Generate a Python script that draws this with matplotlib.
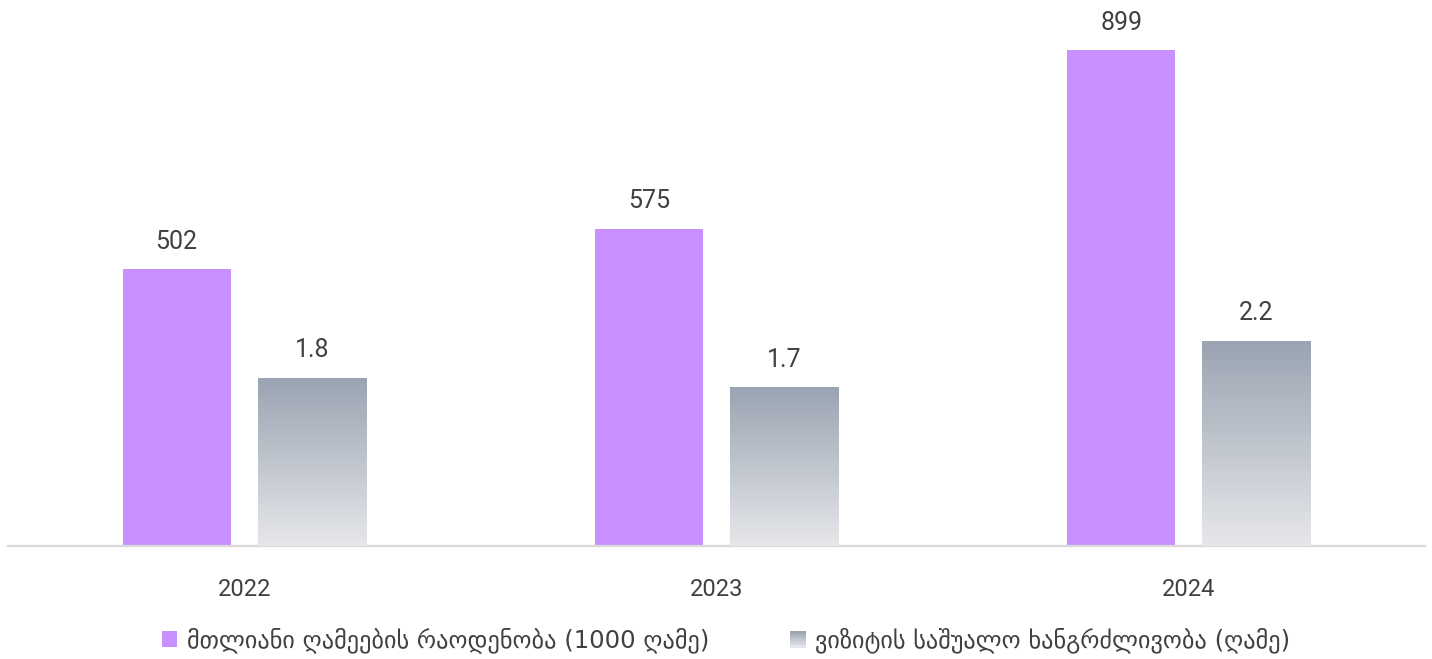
import numpy as np
import matplotlib
matplotlib.use("Agg")
from matplotlib import pyplot as plt
from matplotlib.colors import LinearSegmentedColormap
from matplotlib.patches import Patch, Rectangle
from matplotlib.legend_handler import HandlerBase

years = ["2022", "2023", "2024"]
nights = [502, 575, 899]          # 1000 nights
stay = [1.8, 1.7, 2.2]            # avg nights per visit
label_nights = "მთლიანი ღამეების რაოდენობა (1000 ღამე)"
label_stay = "ვიზიტის საშუალო ხანგრძლივობა (ღამე)"

purple = "#C990FF"
g_top = "#9AA4B2"
g_bot = "#E6E7EA"
txt = "#404040"
grad = LinearSegmentedColormap.from_list("g", [g_bot, g_top])

W, H = 1432, 659
fig = plt.figure(figsize=(W / 100, H / 100), dpi=100)
ax = fig.add_axes([8 / W, (H - 546) / H, 1417 / W, 540 / H])
ax2 = ax.twinx()

x = np.arange(len(years))
bw = 0.229
off = 0.143

ax.bar(x - off, nights, bw, color=purple, zorder=2)
for xi, v in zip(x, nights):
    ax.text(xi - off, v + 50, str(v), ha="center", va="center",
            fontsize=18, color=txt, family="Roboto")

# gradient bars on second axis
g = np.linspace(0, 1, 256).reshape(-1, 1)
for xi, v in zip(x, stay):
    ax2.imshow(g, extent=[xi + off - bw / 2, xi + off + bw / 2, 0, v],
               origin="lower", aspect="auto", cmap=grad, zorder=2)
    ax2.text(xi + off, v + 0.30, f"{v:.1f}", ha="center", va="center",
             fontsize=18, color=txt, family="Roboto")

ax.set_xlim(-0.5, 2.5)
ax2.set_xlim(-0.5, 2.5)
ax.set_ylim(0, 979)
ax2.set_ylim(0, 5.8)

for a in (ax, ax2):
    for s in ["top", "left", "right"]:
        a.spines[s].set_visible(False)
    a.set_yticks([])
ax2.spines["bottom"].set_visible(False)
ax.spines["bottom"].set_color("#D9D9D9")
ax.spines["bottom"].set_linewidth(1.6)
ax.set_xticks(x)
ax.set_xticklabels(years, fontsize=17, color=txt, family="Roboto")
ax.tick_params(axis="x", length=0, pad=23)


class GradHandler(HandlerBase):
    def create_artists(self, legend, orig, xd, yd, w, h, fontsize, trans):
        n = 12
        arts = []
        for i in range(n):
            c = grad(i / (n - 1))
            arts.append(Rectangle((xd, yd + h * i / n), w, h / n + 0.3,
                                  facecolor=c, edgecolor="none", transform=trans))
        return arts


h1 = Patch(facecolor=purple)
h2 = Patch(facecolor=g_top)
fig.legend([h1, h2], [label_nights, label_stay], loc="center",
           bbox_to_anchor=(726 / W, 1 - 640 / H), ncol=2, frameon=False,
           handlelength=0.65, handleheight=0.65, handletextpad=0.4,
           columnspacing=3.3, prop={"family": "DejaVu Sans", "size": 17.5},
           labelcolor=txt, handler_map={h2: GradHandler()})

fig.savefig("out.png", dpi=100)
